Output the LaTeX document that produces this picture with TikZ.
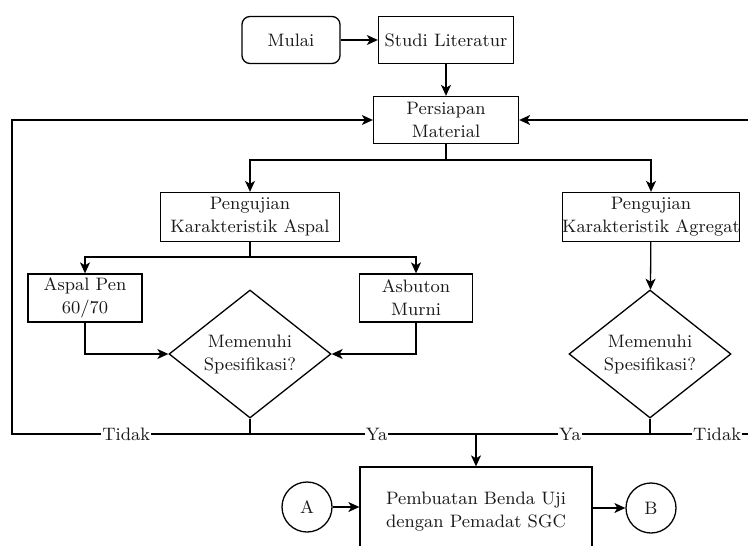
\documentclass[tikz,border=0pt]{standalone}
\usepackage{tikz}
\usetikzlibrary{arrows.meta}
\usetikzlibrary{shapes.geometric}

\begin{document}
\begin{tikzpicture}[x=0.5pt,y=-0.5pt,line width=0.65pt,>={Stealth[length=5.5pt,width=5pt,inset=1.5pt]},
        every node/.style={font=\fontsize{9}{11.5}\selectfont,align=center,inner sep=0pt,text=black!90},
        proses/.style={draw,rectangle,minimum height=23.5pt},
        terminal/.style={draw,rectangle,rounded corners=4pt,minimum width=49pt,minimum height=23.5pt},
        keputusan/.style={draw,diamond,shape aspect=1.27,minimum width=81pt,minimum height=64pt},
        konektor/.style={draw,circle,minimum size=25pt},
        ket/.style={fill=white,inner sep=0.5pt}]
        \useasboundingbox (0,0) rectangle (748,545);
        \clip (0,0) rectangle (748,545);
        \node[terminal] (mulai) at (291,40) {Mulai};
        \node[proses,minimum width=67.5pt] (studi) at (446,40) {Studi Literatur};
        \node[proses,minimum width=72.5pt] (persiapan) at (446,120) {Persiapan\\Material};
        \node[proses,minimum width=89.5pt,minimum height=24.5pt] (aspal) at (250,217) {Pengujian\\Karakteristik Aspal};
        \node[proses,minimum width=88pt,minimum height=24.5pt] (agregat) at (651,217) {Pengujian\\Karakteristik Agregat};
        \node[proses,minimum width=57pt,minimum height=24pt] (pen) at (85,298) {Aspal Pen\\60/70};
        \node[proses,minimum width=56.5pt,minimum height=24pt] (asbuton) at (416,298) {Asbuton\\Murni};
        \node[keputusan] (cek1) at (250,354) {Memenuhi\\Spesifikasi?};
        \node[keputusan] (cek2) at (650,354) {Memenuhi\\Spesifikasi?};
        \node[proses,minimum width=116pt,minimum height=45pt] (buat) at (476,512) {Pembuatan Benda Uji\\dengan Pemadat SGC};
        \node[konektor] (A) at (307,507) {A};
        \node[konektor] (B) at (651,508) {B};
        \coordinate (cabang1) at (446,160);
        \coordinate (cabang2) at (250,257);
        \coordinate (titik1) at (250,434);
        \coordinate (titik2) at (650,434);
        \coordinate (gabung) at (476,434);
        \coordinate (kiri) at (12,434);
        \coordinate (kanan) at (760,434);
        \draw[->] (mulai) -- (studi);
        \draw[->] (studi) -- (persiapan);
        \draw (persiapan) -- (cabang1);
        \draw[->] (cabang1) -| (aspal);
        \draw[->] (cabang1) -| (agregat);
        \draw (aspal) -- (cabang2);
        \draw[->] (cabang2) -| (pen);
        \draw[->] (cabang2) -| (asbuton);
        \draw[->] (pen) |- (cek1);
        \draw[->] (asbuton) |- (cek1);
        \draw[->] (agregat) -- (cek2);
        \draw (cek1) -- (titik1);
        \draw (cek2) -- (titik2);
        \draw[->] (titik1) -- node[ket,pos=0.52] {Tidak} (kiri) |- (persiapan);
        \draw[->] (titik2) -- node[ket,pos=0.61] {Tidak} (kanan) |- (persiapan);
        \draw (titik1) -- node[ket,pos=0.56] {Ya} (gabung);
        \draw (titik2) -- node[ket,pos=0.46] {Ya} (gabung);
        \draw[->] (gabung) -- (buat);
        \draw[->] (A) -- (A -| buat.west);
        \draw[->] (buat.east |- B) -- (B);
    \end{tikzpicture}
\end{document}
